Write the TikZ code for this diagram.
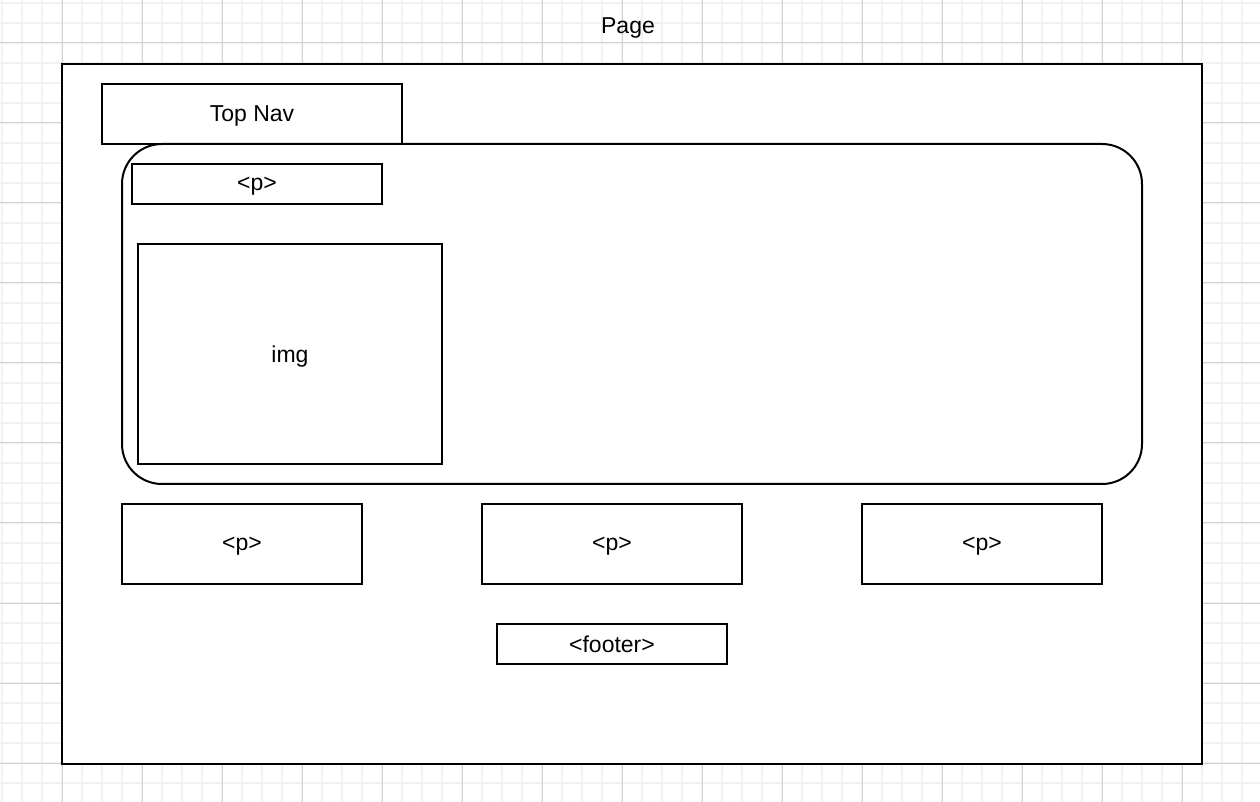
\documentclass[tikz,border=0pt]{standalone}
\usepackage{fontspec}
\setmainfont{Liberation Sans}
\usepackage{tikz}
\usetikzlibrary{positioning}
\tikzstyle{box} = [rectangle, draw=black, line width=1pt, inner sep=0pt, outer sep=0pt, text depth=0pt, font=\fontsize{11.5}{14}\selectfont]
\tikzstyle{minorline} = [black!5, line width=1pt]
\tikzstyle{majorline} = [black!18, line width=0.5pt]

\begin{document}
\begin{tikzpicture}[x=0.5pt, y=-0.5pt, node distance=60pt]
		\useasboundingbox (0,0) rectangle (1260,802);
		\fill [white] (0,0) rectangle (1260,802);
		\foreach \gx in {2,22,...,1262} \draw [minorline] (\gx,0) -- (\gx,802);
		\foreach \gy in {3,23,...,803} \draw [minorline] (0,\gy) -- (1260,\gy);
		\foreach \gx in {62,142,...,1262} \draw [majorline] (\gx,0) -- (\gx,802);
		\foreach \gy in {43,123,...,803} \draw [majorline] (0,\gy) -- (1260,\gy);
		\node (pagelabel) [text depth=0pt, font=\fontsize{11.5}{14}\selectfont] at (628,26) {Page};
		\node (page) [box, fill=white, minimum width=570pt, minimum height=350pt] at (632,414) {};
		\node (topnav) [box, minimum width=150pt, minimum height=30pt] at (252,114) {Top Nav};
		\node (content) [box, rounded corners=20pt, minimum width=510pt, minimum height=170pt] at (632,314) {};
		\node (ptop) [box, minimum width=125pt, minimum height=20pt] at (257,184) {<p>};
		\node (img) [box, minimum width=152pt, minimum height=110pt] at (290,354) {img};
		\node (p1) [box, minimum width=120pt, minimum height=40pt] at (242,544) {<p>};
		\node (p2) [box, minimum width=130pt, minimum height=40pt, right=of p1] {<p>};
		\node (p3) [box, minimum width=120pt, minimum height=40pt, right=of p2] {<p>};
		\node (footer) [box, minimum width=115pt, minimum height=20pt] at (612,644) {<footer>};
\end{tikzpicture}
\end{document}
